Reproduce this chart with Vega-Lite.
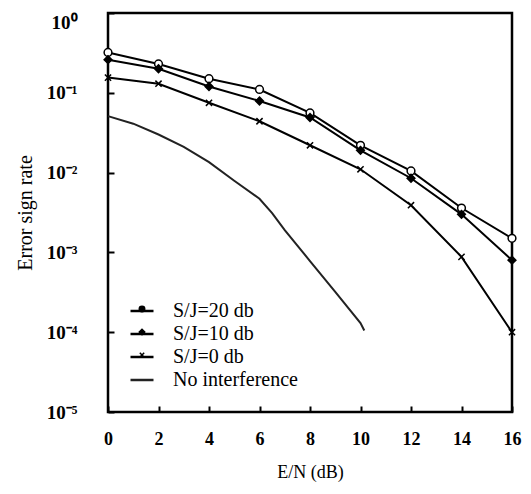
{
  "$schema": "https://vega.github.io/schema/vega-lite/v6.json",
  "width": 404,
  "height": 399,
  "autosize": "none",
  "padding": {"left": 108, "top": 13, "right": 19, "bottom": 82},
  "config": {
    "font": "Liberation Serif",
    "view": {"stroke": "black", "strokeWidth": 2.5},
    "axis": {"grid": false, "domain": false, "tickColor": "black", "tickWidth": 2, "tickSize": -6, "labelColor": "black", "titleColor": "black", "labelFont": "Liberation Serif", "titleFont": "Liberation Serif", "labelFontSize": 18, "labelFontWeight": "bold", "titleFontSize": 18, "titleFontWeight": "normal"}
  },
  "data": {
    "values": [
      {"x": 0, "y": 0.32, "series": "S/J=20 db", "marker": "S/J=20 db"},
      {"x": 2, "y": 0.23, "series": "S/J=20 db", "marker": "S/J=20 db"},
      {"x": 4, "y": 0.15, "series": "S/J=20 db", "marker": "S/J=20 db"},
      {"x": 6, "y": 0.11, "series": "S/J=20 db", "marker": "S/J=20 db"},
      {"x": 8, "y": 0.056, "series": "S/J=20 db", "marker": "S/J=20 db"},
      {"x": 10, "y": 0.022, "series": "S/J=20 db", "marker": "S/J=20 db"},
      {"x": 12, "y": 0.0105, "series": "S/J=20 db", "marker": "S/J=20 db"},
      {"x": 14, "y": 0.0036, "series": "S/J=20 db", "marker": "S/J=20 db"},
      {"x": 16, "y": 0.0015, "series": "S/J=20 db", "marker": "S/J=20 db"},
      {"x": 0, "y": 0.26, "series": "S/J=10 db", "marker": "S/J=10 db"},
      {"x": 2, "y": 0.2, "series": "S/J=10 db", "marker": "S/J=10 db"},
      {"x": 4, "y": 0.12, "series": "S/J=10 db", "marker": "S/J=10 db"},
      {"x": 6, "y": 0.079, "series": "S/J=10 db", "marker": "S/J=10 db"},
      {"x": 8, "y": 0.049, "series": "S/J=10 db", "marker": "S/J=10 db"},
      {"x": 10, "y": 0.019, "series": "S/J=10 db", "marker": "S/J=10 db"},
      {"x": 12, "y": 0.0085, "series": "S/J=10 db", "marker": "S/J=10 db"},
      {"x": 14, "y": 0.003, "series": "S/J=10 db", "marker": "S/J=10 db"},
      {"x": 16, "y": 0.0008, "series": "S/J=10 db", "marker": "S/J=10 db"},
      {"x": 0, "y": 0.155, "series": "S/J=0 db", "marker": "S/J=0 db"},
      {"x": 2, "y": 0.13, "series": "S/J=0 db", "marker": "S/J=0 db"},
      {"x": 4, "y": 0.075, "series": "S/J=0 db", "marker": "S/J=0 db"},
      {"x": 6, "y": 0.044, "series": "S/J=0 db", "marker": "S/J=0 db"},
      {"x": 8, "y": 0.022, "series": "S/J=0 db", "marker": "S/J=0 db"},
      {"x": 10, "y": 0.011, "series": "S/J=0 db", "marker": "S/J=0 db"},
      {"x": 12, "y": 0.0039, "series": "S/J=0 db", "marker": "S/J=0 db"},
      {"x": 14, "y": 0.00088, "series": "S/J=0 db", "marker": "S/J=0 db"},
      {"x": 16, "y": 0.0001, "series": "S/J=0 db", "marker": "S/J=0 db"},
      {"x": 0, "y": 0.051, "series": "No interference", "marker": "No interference"},
      {"x": 1, "y": 0.041, "series": "No interference", "marker": "No interference"},
      {"x": 2, "y": 0.03, "series": "No interference", "marker": "No interference"},
      {"x": 3, "y": 0.021, "series": "No interference", "marker": "No interference"},
      {"x": 4, "y": 0.0135, "series": "No interference", "marker": "No interference"},
      {"x": 5, "y": 0.0079, "series": "No interference", "marker": "No interference"},
      {"x": 6, "y": 0.0047, "series": "No interference", "marker": "No interference"},
      {"x": 6.5, "y": 0.0031, "series": "No interference", "marker": "No interference"},
      {"x": 7, "y": 0.0019, "series": "No interference", "marker": "No interference"},
      {"x": 8, "y": 0.00078, "series": "No interference", "marker": "No interference"},
      {"x": 9, "y": 0.00032, "series": "No interference", "marker": "No interference"},
      {"x": 10, "y": 0.00013, "series": "No interference", "marker": "No interference"},
      {"x": 10.15, "y": 0.000105, "series": "No interference", "marker": "No interference"}
    ]
  },
  "encoding": {
    "x": {"field": "x", "type": "quantitative", "scale": {"domain": [0, 16], "nice": false, "zero": false},
      "axis": {"values": [0, 2, 4, 6, 8, 10, 12, 14, 16], "labelFlush": false, "labelPadding": 24, "title": "E/N (dB)", "titlePadding": 15}},
    "y": {"field": "y", "type": "quantitative", "scale": {"type": "log", "domain": [0.00001, 1], "nice": false},
      "axis": {"values": [0.00001, 0.0001, 0.001, 0.01, 0.1, 1], "labelExpr": "'10' + ['⁰','⁻¹','⁻²','⁻³','⁻⁴','⁻⁵'][-round(log(datum.value)/LN10)]", "labelFontSize": 19, "labelPadding": 37, "labelFlush": false, "labelBaseline": {"condition": {"test": "datum.value >= 0.5", "value": "top"}, "value": "middle"}, "title": "Error sign rate", "titleFontSize": 20, "titlePadding": 11}}
  },
  "layer": [
    {
      "mark": {"type": "line", "strokeWidth": 2},
      "encoding": {
        "color": {"field": "series", "type": "nominal", "sort": ["S/J=20 db", "S/J=10 db", "S/J=0 db", "No interference"],
          "scale": {"range": ["black", "black", "black", "#222222"]},
          "legend": {"title": null, "orient": "none", "legendX": 21, "legendY": 285, "symbolType": "stroke", "symbolSize": 529, "symbolStrokeWidth": 2.5, "labelFontSize": 20, "labelFont": "Liberation Serif", "labelColor": "black", "labelOffset": 18, "rowPadding": 0, "padding": 0}}
      }
    },
    {
      "mark": {"type": "point", "filled": true, "stroke": "black", "strokeWidth": 1.5, "opacity": 1, "size": 60},
      "encoding": {
        "shape": {"field": "marker", "type": "nominal", "sort": ["S/J=20 db", "S/J=10 db", "S/J=0 db", "No interference"],
          "scale": {"range": ["circle", "diamond", "M-0.8,-0.8L0.8,0.8M-0.8,0.8L0.8,-0.8", "M0,0"]},
          "legend": {"title": null, "orient": "none", "legendX": 24, "legendY": 286, "symbolSize": 30, "labelFontSize": 20, "labelFont": "Liberation Serif", "labelExpr": "''", "labelOffset": 18, "rowPadding": 3, "padding": 0,
            "encode": {"symbols": {"fill": {"condition": {"test": "datum.value === 'S/J=20 db'", "value": "white"}, "value": "black"}, "stroke": {"value": "black"}, "strokeWidth": {"value": 1.5}, "opacity": {"value": 1}}}}},
        "fill": {"field": "marker", "type": "nominal", "sort": ["S/J=20 db", "S/J=10 db", "S/J=0 db", "No interference"],
          "scale": {"range": ["white", "black", "black", "black"]}, "legend": null}
      }
    }
  ]
}
